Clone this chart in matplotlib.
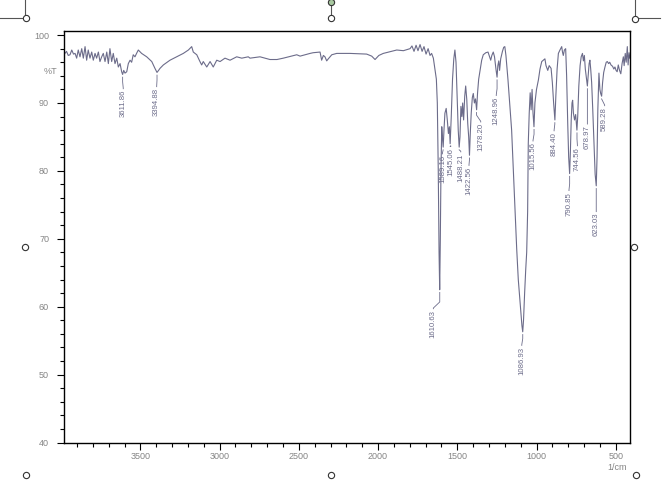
import matplotlib
matplotlib.use('Agg')
import matplotlib.pyplot as plt
from matplotlib.lines import Line2D

plt.rcParams['font.family'] = ['Liberation Sans', 'DejaVu Sans']

# spectrum (wavenumber 1/cm, %T)
wavenumber = [
    3980, 3976, 3966, 3955, 3944, 3933, 3922, 3912, 3902, 3892, 3881, 3870,
    3860, 3849, 3839, 3829, 3818, 3807, 3797, 3786, 3776, 3765, 3755, 3744,
    3734, 3723, 3712, 3702, 3692, 3681, 3671, 3660, 3649, 3639, 3628, 3618,
    3612, 3605, 3597, 3586, 3576, 3565, 3555, 3545, 3534, 3524, 3513, 3492,
    3460, 3428, 3408, 3395, 3385, 3376, 3355, 3313, 3271, 3229, 3197, 3176,
    3166, 3144, 3124, 3113, 3103, 3081, 3060, 3040, 3018, 2997, 2966, 2934,
    2892, 2860, 2819, 2808, 2745, 2682, 2638, 2598, 2513, 2492, 2429, 2410,
    2366, 2356, 2345, 2335, 2324, 2314, 2292, 2261, 2177, 2072, 2040, 2019,
    1995, 1967, 1882, 1840, 1798, 1786, 1773, 1760, 1748, 1735, 1722, 1710,
    1697, 1684, 1672, 1662, 1651, 1641, 1632, 1626, 1620, 1615, 1611, 1607,
    1603, 1598, 1594, 1589, 1584, 1578, 1570, 1563, 1556, 1550, 1545, 1538,
    1530, 1522, 1515, 1508, 1500, 1494, 1488, 1483, 1477, 1471, 1466, 1460,
    1453, 1447, 1440, 1434, 1428, 1423, 1418, 1412, 1405, 1399, 1392, 1385,
    1378, 1372, 1365, 1356, 1346, 1336, 1320, 1306, 1296, 1289, 1282, 1273,
    1265, 1256, 1249, 1244, 1238, 1233, 1226, 1215, 1207, 1200, 1193, 1180,
    1168, 1157, 1146, 1136, 1125, 1115, 1100, 1092, 1087, 1082, 1075, 1068,
    1062, 1056, 1052, 1046, 1040, 1034, 1028, 1022, 1016, 1010, 1000, 988,
    978, 967, 957, 947, 940, 929, 920, 908, 900, 892, 884, 878,
    870, 862, 852, 841, 836, 831, 824, 816, 810, 803, 797, 791,
    786, 781, 776, 772, 767, 760, 753, 745, 740, 733, 725, 718,
    710, 704, 698, 692, 686, 679, 674, 668, 663, 658, 652, 645,
    637, 630, 623, 618, 613, 606, 600, 595, 589, 583, 576, 568,
    560, 553, 545, 538, 530, 520, 512, 505, 498, 491, 484, 476,
    468, 460, 452, 447, 440, 434, 427, 422, 416, 411,
]
transmittance = [
    97.4, 97.3, 97.6, 97.0, 97.1, 97.8, 97.2, 97.3, 96.6, 97.8, 96.8, 98.0,
    96.6, 98.3, 96.3, 97.8, 96.6, 97.5, 96.3, 97.3, 96.6, 97.5, 96.1, 96.8,
    97.3, 96.1, 97.5, 95.8, 98.0, 96.1, 97.3, 95.8, 96.6, 95.3, 95.8, 94.6,
    94.2, 94.8, 94.4, 94.6, 95.8, 96.3, 96.0, 97.1, 96.8, 97.3, 97.8, 97.3,
    96.8, 96.1, 95.1, 94.5, 94.8, 95.1, 95.6, 96.3, 96.8, 97.3, 97.8, 98.3,
    97.5, 97.1, 96.1, 95.6, 96.1, 95.3, 96.1, 95.3, 96.3, 96.1, 96.6, 96.3,
    96.8, 96.6, 96.8, 96.6, 96.8, 96.4, 96.4, 96.6, 97.1, 96.9, 97.3, 97.4,
    97.5, 96.3, 97.0, 96.8, 96.2, 96.5, 97.1, 97.3, 97.3, 97.2, 96.9, 96.4,
    97.0, 97.3, 97.8, 97.7, 98.0, 98.4, 97.6, 98.5, 97.7, 98.6, 97.6, 98.3,
    97.2, 98.0, 97.0, 97.3, 96.6, 95.0, 93.5, 90.0, 80.0, 68.0, 62.5, 70.0,
    80.0, 86.5, 85.0, 83.5, 86.0, 88.5, 89.2, 87.5, 85.5, 86.5, 84.0, 88.0,
    93.5, 96.5, 97.8, 96.0, 90.5, 86.0, 83.5, 85.0, 89.5, 88.0, 90.0, 87.5,
    91.0, 92.5, 90.5, 87.0, 85.0, 82.3, 85.5, 88.5, 90.8, 91.4, 90.0, 90.6,
    89.0, 91.5, 93.5, 94.8, 96.3, 97.1, 97.4, 97.5, 96.8, 96.3, 97.0, 97.5,
    96.8, 95.0, 93.8, 95.5, 96.2, 94.8, 96.5, 97.6, 98.2, 98.3, 97.0, 93.4,
    89.5, 86.0, 80.0, 74.2, 68.5, 64.0, 59.5, 57.2, 56.3, 58.0, 62.0, 65.5,
    68.0, 74.0, 84.0, 88.5, 91.5, 89.0, 92.0, 88.5, 86.5, 90.0, 92.0, 93.4,
    95.0, 96.1, 96.3, 96.5, 95.5, 94.8, 95.5, 95.1, 93.0, 90.0, 87.5, 91.0,
    95.0, 97.3, 97.8, 98.3, 97.5, 97.0, 97.8, 98.0, 94.0, 87.0, 82.0, 79.6,
    83.0, 87.5, 90.0, 90.4, 88.5, 87.5, 88.3, 86.0, 88.0, 92.5, 95.5, 96.8,
    97.3, 96.2, 97.0, 95.0, 93.8, 92.5, 94.0, 95.8, 96.3, 95.0, 93.0, 89.0,
    84.0, 79.5, 77.8, 82.0, 89.0, 94.4, 92.0, 91.4, 91.0, 93.0, 94.5, 95.3,
    96.0, 96.1, 95.8, 96.0, 95.6, 95.4, 95.0, 95.3, 94.8, 94.6, 95.6, 94.8,
    94.3, 95.8, 96.8, 95.5, 97.3, 96.0, 98.3, 95.6, 97.4, 96.6,
]

# peak labels
peak_text = ['3611.86', '3394.88', '1610.63', '1589.16', '1545.06', '1488.21',
             '1422.56', '1378.20', '1248.96', '1086.93', '1015.56', '884.40',
             '790.85', '744.56', '678.97', '623.03', '589.28']
peak_wn = [3611.86, 3394.88, 1610.63, 1589.16, 1545.06, 1488.21, 1422.56,
           1378.20, 1248.96, 1086.93, 1015.56, 884.40, 790.85, 744.56,
           678.97, 623.03, 589.28]
peak_t = [94.2, 94.5, 62.5, 83.5, 84.0, 83.5, 82.3, 89.0, 93.8, 56.3, 86.5,
          87.5, 79.6, 86.0, 92.5, 77.8, 91.0]
label_wn = [3608, 3397, 1651, 1594, 1541, 1478, 1426, 1352, 1254, 1093, 1022,
            889, 795, 742, 679, 623, 570]
label_t = [91.9, 92.2, 59.5, 82.3, 83.4, 82.6, 80.6, 87.0, 90.9, 54.1, 84.2,
           85.7, 76.9, 83.5, 86.7, 73.8, 89.4]

W, H = 668, 491
line_col = '#6c6c8a'
tick_col = '#858585'

fig = plt.figure(figsize=(W / 100, H / 100), dpi=100)
fig.patch.set_facecolor('white')
ax = fig.add_axes([64.3 / W, 1 - 442.5 / H, (630 - 64.3) / W, (442.5 - 31) / H])

ax.plot(wavenumber, transmittance, color=line_col, lw=0.8)

for txt, pw, pt, lw_, lt in zip(peak_text, peak_wn, peak_t, label_wn, label_t):
    bend = lt + 1.2
    if bend > pt - 0.4:
        bend = pt - 0.4
    ax.plot([pw, pw, lw_, lw_], [pt - 0.4, bend, lt + 0.3, lt + 0.2],
            color=line_col, lw=0.6)
    ax.text(lw_, lt, txt, rotation=90, ha='center', va='top',
            fontsize=5.6, color=line_col)

ax.set_xlim(3980, 410)
ax.set_ylim(40, 100.6)
ax.set_xticks([3500, 3000, 2500, 2000, 1500, 1000, 500])
ax.set_xticks(range(3900, 400, -100), minor=True)
ax.set_yticks([40, 50, 60, 70, 80, 90, 100])
ax.set_yticks(range(40, 101, 2), minor=True)
ax.tick_params(which='major', length=5, width=0.8, color='black',
               labelsize=6.5, labelcolor=tick_col)
ax.tick_params(which='minor', length=3.2, width=0.8, color='black')
ax.tick_params(axis='x', pad=1.5)
ax.tick_params(axis='y', pad=6)
for s in ax.spines.values():
    s.set_linewidth(1.0)
    s.set_color('black')

fig.text(50 / W, 1 - 71 / H, '%T', ha='center', va='center', fontsize=6.5,
         color=tick_col)
fig.text(617 / W, 1 - 468 / H, '1/cm', ha='center', va='center', fontsize=6.5,
         color=tick_col)


# selection handles of the embedded picture
def px(x, y):
    return x / W, 1 - y / H


def seg(x0, y0, x1, y1):
    a, b = px(x0, y0)
    c, d = px(x1, y1)
    fig.add_artist(Line2D([a, c], [b, d], color='#555555', lw=0.8))


def handle(x, y, face='white'):
    a, b = px(x, y)
    fig.add_artist(Line2D([a], [b], marker='o', ms=4.5, mfc=face,
                          mec='#333333', mew=0.8, ls='none'))


seg(25, 0, 25, 15)
seg(0, 18, 22, 18)
seg(331, 3, 331, 15)
seg(635, 0, 635, 15)
seg(639, 18, 660, 18)
handle(25.5, 18.3)
handle(331, 1.5, face='#a8c8a0')
handle(330.5, 18.3)
handle(635, 18.5)
handle(25, 247)
handle(634, 247)
handle(26, 475)
handle(331, 475)
handle(636, 475)

fig.savefig('out.png', dpi=100)
